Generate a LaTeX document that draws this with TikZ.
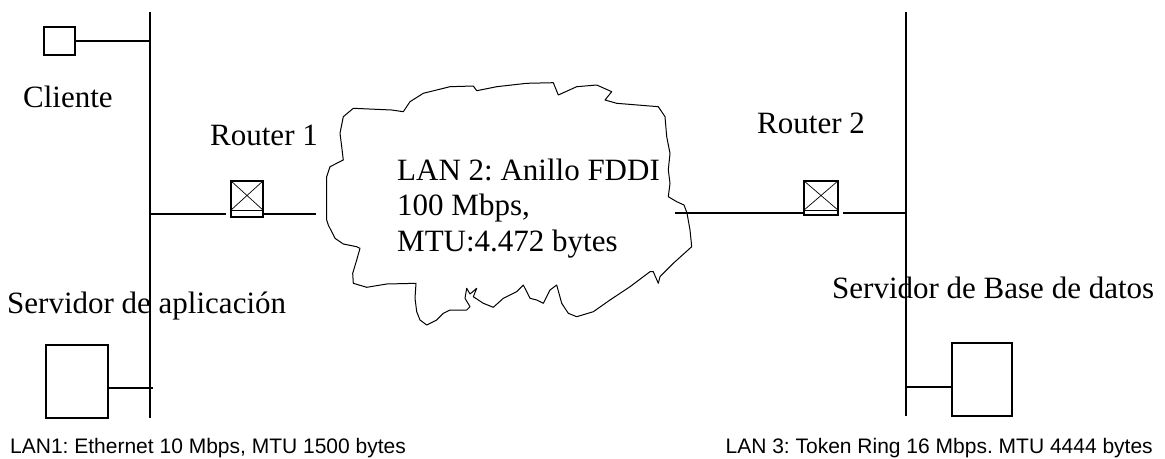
\documentclass[tikz,border=0pt]{standalone}
\usepackage{fontspec}
\setmainfont{Liberation Serif}
\newfontfamily\labelsans{Liberation Sans}
\frenchspacing
\begin{document}
\frenchspacing
\begin{tikzpicture}[x=1pt,y=-1pt,
  wire/.style={line width=1.3pt},
  dev/.style={draw,line width=1.2pt,inner sep=0pt,fill=white},
  serif/.style={inner sep=0pt,font=\fontsize{31}{36}\selectfont},
  sanslab/.style={inner sep=0pt,font=\labelsans\fontsize{21}{25}\selectfont}]
\useasboundingbox (0,0) rectangle (1165,458);
% buses
\coordinate (lt) at (150,12);
\coordinate (lb) at (150,418);
\coordinate (rt) at (906,12);
\coordinate (rb) at (906,416);
\draw[wire] (lt) -- (lb);
\draw[wire] (rt) -- (rb);
% devices
\node[dev,minimum width=31pt,minimum height=28pt] (cli) at (59.5,41) {};
\node[dev,minimum width=62pt,minimum height=73pt] (app) at (77,381.5) {};
\node[dev,minimum width=60pt,minimum height=73pt] (db) at (982,379.5) {};
\node[dev,minimum width=32pt,minimum height=36pt] (r1) at (247,199) {};
\node[dev,minimum width=34pt,minimum height=34pt] (r2) at (821,198) {};
% router glyphs
\draw[line width=0.8pt] ([yshift=7pt]r1.south west) -- ([yshift=7pt]r1.south east);
\draw[line width=0.7pt] (r1.north west) -- ([yshift=7pt]r1.south east);
\draw[line width=0.7pt] (r1.north east) -- ([yshift=7pt]r1.south west);
\draw[line width=0.8pt] ([yshift=5pt]r2.south west) -- ([yshift=5pt]r2.south east);
\draw[line width=0.7pt] (r2.north west) -- ([yshift=5pt]r2.south east);
\draw[line width=0.7pt] (r2.north east) -- ([yshift=5pt]r2.south west);
% connectors
\draw[wire] (cli.east) -- (cli.east -| lt);
\coordinate (append) at (153,388);
\draw[wire] (app.east |- append) -- (append);
\draw[wire] (db.west |- 0,387) -- (rb |- 0,387);
\coordinate (r1a) at (226,214);
\coordinate (r1b) at (316,214);
\draw[wire] (lt |- r1a) -- (r1a);
\draw[wire] (r1.east |- r1b) -- (r1b);
\coordinate (r2a) at (675,213);
\coordinate (r2b) at (843,213);
\draw[wire] (r2a) -- (r2.west |- r2a);
\draw[wire] (r2b) -- (rt |- r2b);
% cloud
\draw[line width=1pt,line join=round]
 (353.3,108.3) -- (391.7,110) -- (403.3,111.7) -- (410,101.7) -- (423.3,93.3) -- (450,86.7)
 -- (473.3,86) -- (476.7,90.7) -- (496.7,86.7) -- (526.7,83.3) -- (553.3,82.7) -- (558.3,95)
 -- (576.7,86.7) -- (596.7,85) -- (611.7,91.7) -- (605,100) -- (616.7,103.3) -- (658.3,106.7)
 -- (665,116.7) -- (666.7,136.7) -- (670,153.3) -- (668.3,170) -- (670,183.3) -- (668.3,196.7)
 -- (676.7,201.7) -- (684,205) -- (687,213) -- (690,230) -- (691.7,246.7) -- (673.3,263.3)
 -- (660,276.7) -- (658.3,283.3) -- (653.3,271.7) -- (650,271.7) -- (630,286.7) -- (610,300)
 -- (593.3,311.7) -- (576.7,316.7) -- (568.3,313.3) -- (561.7,303.3) -- (556.7,285) -- (550,290)
 -- (543.3,303.3) -- (536.7,300) -- (530,298.3) -- (523.3,285) -- (516.7,291.7) -- (503.3,298.3)
 -- (493.3,307.3) -- (483.3,303.3) -- (473.3,296.7) -- (476.7,288.3) -- (470,294) -- (466.7,288.3)
 -- (465,298.3) -- (470,306.7) -- (466.7,310) -- (450,310) -- (443.3,313.3) -- (436.7,320)
 -- (426.7,325) -- (420,320) -- (416.7,311.7) -- (415,298.3) -- (416,283.3) -- (386.7,284)
 -- (366.7,287.3) -- (353.3,283.3) -- (352.7,273.3) -- (356.7,260) -- (360,248.3) -- (356.7,246.7)
 -- (343.3,244) -- (335,238.3) -- (328.3,225) -- (326.7,220) -- (326.7,176.7) -- (330,166.7)
 -- (343.3,160) -- (341.7,146.7) -- (340,133.3) -- (343.3,116.7) -- cycle;
% texts
\node[serif,anchor=base west] (tcli) at (23,107) {Cliente};
\node[serif,anchor=base west] (tr1) at (210,145) {Router 1};
\node[serif,anchor=base west] (tr2) at (757,133) {Router 2};
\node[serif,anchor=base west] (tapp) at (7,313) {Servidor de aplicación};
\node[serif,anchor=base west] (tdb) at (832,298) {Servidor de Base de datos};
\node[serif,anchor=base west] (c1) at (397,180) {LAN 2: Anillo FDDI};
\node[serif,anchor=base west] (c2) at (397,215) {100 Mbps,};
\node[serif,anchor=base west] (c3) at (397,251.7) {MTU:4.472 bytes};
\node[sanslab,anchor=base west] (lan1) at (10,453) {LAN1: Ethernet 10 Mbps, MTU 1500 bytes};
\node[sanslab,anchor=base east] (lan3) at (1153,453) {LAN 3: Token Ring 16 Mbps. MTU 4444 bytes};
\end{tikzpicture}
\end{document}
